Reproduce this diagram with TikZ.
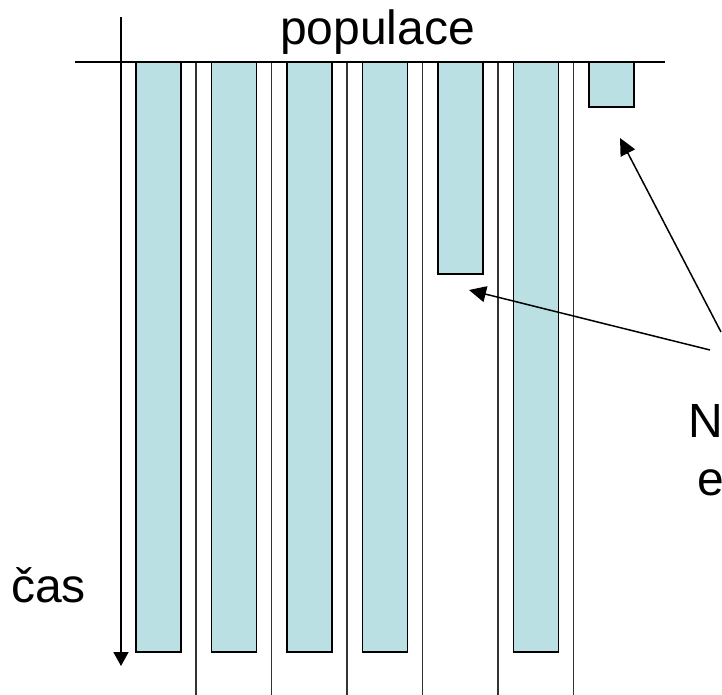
\documentclass[tikz,border=0pt]{standalone}
\usepackage{fontspec}
\setmainfont{Liberation Sans}
\usetikzlibrary{arrows.meta}
\definecolor{barfill}{RGB}{187,224,227}

\begin{document}
\begin{tikzpicture}[x=1pt,y=-1pt,inner sep=0pt,
  bar/.style={draw=black,line width=1.8pt,fill=barfill},
  sep/.style={draw=black!80,line width=1.5pt},
  txt/.style={font=\fontsize{48}{56}\selectfont,anchor=base west},
  pointer/.style={line width=1.5pt,-{Triangle[length=17pt,width=16pt]}}]
\useasboundingbox (0,0) rectangle (722,695);
\def\p{75.5}
% bars and separators
\foreach \i/\b in {0/652,1/652,2/652,3/652,4/274,5/652,6/107}
  \draw[bar] (136+\i*\p,62) rectangle (181+\i*\p,\b);
\foreach \i in {0,...,5}
  \draw[sep] (196+\i*\p,62) -- (196+\i*\p,695);

\node[txt] (populace) at (280,45) {populace};
\node[txt] (cas) at (11,602) {čas};
\node[txt] (labN) at (688,437) {N};
\node[txt] (labE) at (697,495) {e};

\coordinate (top) at (121,17);
\coordinate (bot) at (121,666);
\coordinate (left) at (75,62);
\coordinate (right) at (665,62);
\draw[line width=1.3pt] (left) -- (right);
\draw[line width=1.7pt,-{Triangle[length=14pt,width=15pt]}] (top) -- (bot);

\coordinate (tip5) at (469,290);
\coordinate (tip7) at (620,138);
\coordinate (src5) at (710,350);
\coordinate (src7) at (721,332);
\draw[pointer] (src5) -- (tip5);
\draw[pointer] (src7) -- (tip7);
\end{tikzpicture}
\end{document}
